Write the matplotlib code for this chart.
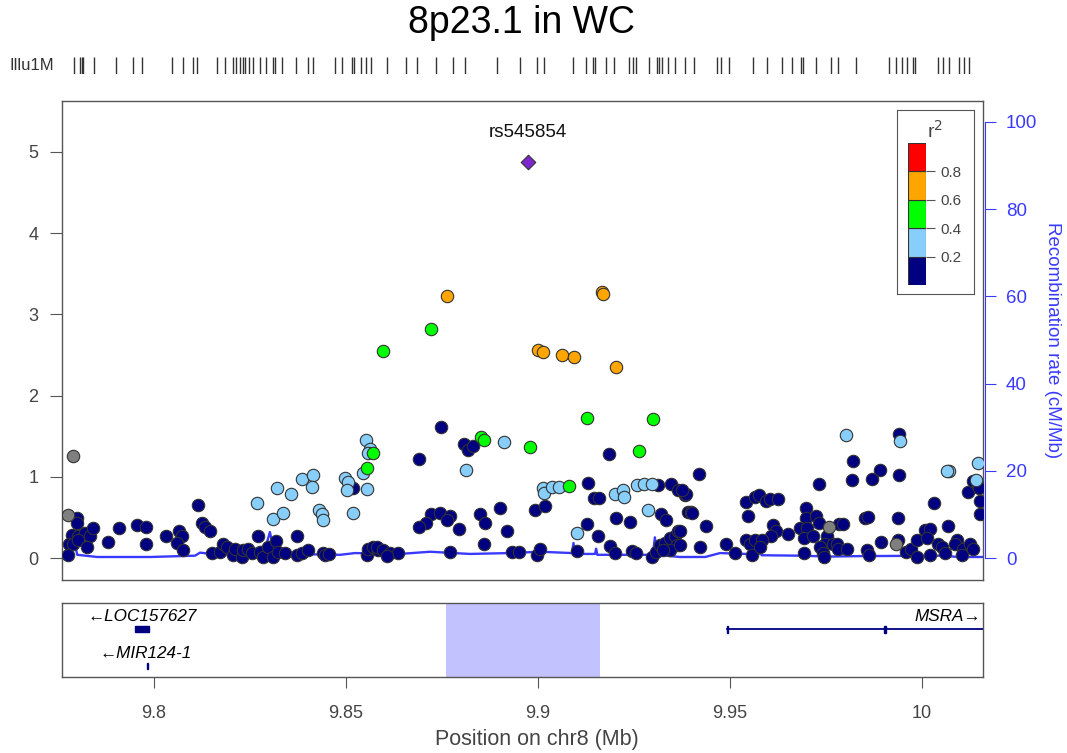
import matplotlib
matplotlib.use('Agg')
import matplotlib.pyplot as plt
from matplotlib.patches import Rectangle

plt.rcParams['font.family'] = ['Liberation Sans', 'DejaVu Sans']

TITLE = "8p23.1 in WC"
CHROM_LABEL = "Position on chr8 (Mb)"
RECOMB_LABEL = "Recombination rate (cM/Mb)"
RUG_LABEL = "Illu1M"

lead_name = "rs545854"
lead_pos = 9.8974
lead_logp = 4.88

gray_pos = [9.7790, 9.7777, 9.9759, 9.9933]
gray_logp = [1.26, 0.53, 0.39, 0.17]

navy_pos = [
    9.7799, 9.7799, 9.7786, 9.7803, 9.7820, 9.7833, 9.7842, 9.7779, 9.7790, 9.7803, 9.7826, 9.7777,
    9.7881, 9.7909, 9.7955, 9.7979, 9.7979, 9.8031, 9.8066, 9.8072, 9.8061, 9.8076, 9.8115, 9.8124,
    9.8133, 9.8146, 9.8150, 9.8172, 9.8181, 9.8189, 9.8207, 9.8211, 9.8228, 9.8233, 9.8246, 9.8255,
    9.8272, 9.8276, 9.8285, 9.8298, 9.8311, 9.8318, 9.8324, 9.8341, 9.8372, 9.8373, 9.8385, 9.8402,
    9.8441, 9.8445, 9.8457, 9.8519, 9.8554, 9.8558, 9.8571, 9.8584,
    9.8748, 9.8690, 9.8808, 9.8817, 9.8830, 9.9185, 9.9130, 9.9146, 9.9159, 9.9314, 9.9347, 9.9366,
    9.9383, 9.9392, 9.8722, 9.8745, 9.8771, 9.8763, 9.8710, 9.8691, 9.8795, 9.8849, 9.8862, 9.8901,
    9.8920, 9.8993, 9.9019, 9.9127, 9.9158, 9.9205, 9.9241, 9.9321, 9.9333, 9.8771, 9.8860, 9.8932,
    9.8952, 9.8997, 9.9007, 9.9101, 9.9188, 9.9201, 9.9245, 9.9255, 9.9297, 9.9308, 9.9318, 9.9331,
    9.9344, 9.9357, 9.9366, 9.9362, 9.9344, 9.9327, 9.8580, 9.8597, 9.8615, 9.8636, 9.8606,
    9.9941, 9.9820, 9.9818, 9.9891, 9.9872, 9.9941, 9.9421, 9.9733, 9.9386, 9.9375, 9.9399, 9.9403,
    9.9437, 9.9370, 9.9370, 9.9422, 9.9490, 9.9514, 9.9542, 9.9566, 9.9576, 9.9594, 9.9605, 9.9626,
    9.9548, 9.9613, 9.9620, 9.9607, 9.9542, 9.9553, 9.9566, 9.9583, 9.9557, 9.9579, 9.9652, 9.9699,
    9.9699, 9.9725, 9.9733, 9.9683, 9.9702, 9.9693, 9.9716, 9.9753, 9.9748, 9.9768, 9.9780, 9.9783,
    9.9805, 9.9785, 9.9796, 9.9693, 9.9735, 9.9742, 9.9746, 9.9852, 9.9861, 9.9859, 9.9863, 9.9893,
    9.9938, 9.9939, 9.9959, 9.9972, 9.9989, 9.9987, 10.0009, 10.0023, 10.0032, 10.0013, 10.0022, 10.0043,
    10.0052, 10.0061, 10.0069, 10.0091, 10.0087, 10.0108, 10.0104, 10.0126, 10.0134, 10.0122, 10.0134,
    10.0148, 10.0152, 10.0152, 10.0150,
]
navy_logp = [
    0.49, 0.43, 0.29, 0.27, 0.31, 0.27, 0.37, 0.18, 0.18, 0.23, 0.14, 0.04,
    0.20, 0.37, 0.41, 0.38, 0.18, 0.27, 0.34, 0.27, 0.19, 0.10, 0.66, 0.44,
    0.39, 0.33, 0.06, 0.08, 0.18, 0.14, 0.04, 0.12, 0.02, 0.10, 0.12, 0.06,
    0.27, 0.08, 0.02, 0.14, 0.02, 0.21, 0.08, 0.07, 0.27, 0.04, 0.06, 0.10,
    0.07, 0.04, 0.05, 0.86, 0.04, 0.12, 0.14, 0.10,
    1.61, 1.22, 1.41, 1.33, 1.38, 1.28, 0.93, 0.74, 0.74, 0.90, 0.91, 0.84,
    0.78, 0.57, 0.55, 0.56, 0.52, 0.47, 0.44, 0.38, 0.36, 0.55, 0.43, 0.62,
    0.34, 0.59, 0.64, 0.42, 0.27, 0.50, 0.45, 0.55, 0.47, 0.08, 0.18, 0.08,
    0.08, 0.04, 0.11, 0.09, 0.15, 0.06, 0.09, 0.06, 0.02, 0.08, 0.16, 0.19,
    0.25, 0.27, 0.33, 0.16, 0.10, 0.10, 0.14, 0.10, 0.06, 0.07, 0.03,
    1.53, 1.20, 0.96, 1.08, 0.97, 1.03, 1.04, 0.91, 0.79, 0.84, 0.57, 0.56,
    0.40, 0.33, 0.16, 0.14, 0.18, 0.07, 0.69, 0.75, 0.78, 0.71, 0.73, 0.73,
    0.52, 0.41, 0.33, 0.27, 0.23, 0.18, 0.23, 0.22, 0.04, 0.14, 0.30, 0.62,
    0.49, 0.52, 0.43, 0.37, 0.37, 0.25, 0.27, 0.27, 0.18, 0.18, 0.18, 0.12,
    0.12, 0.42, 0.42, 0.07, 0.14, 0.07, 0.02, 0.50, 0.51, 0.10, 0.04, 0.20,
    0.50, 0.23, 0.08, 0.12, 0.01, 0.23, 0.35, 0.36, 0.68, 0.25, 0.04, 0.18,
    0.14, 0.07, 0.40, 0.23, 0.18, 0.11, 0.04, 0.18, 0.11, 0.82, 0.95,
    0.89, 0.71, 0.54, 0.86,
]

lblue_pos = [
    9.8269, 9.8320, 9.8309, 9.8337, 9.8356, 9.8386, 9.8415, 9.8411, 9.8430, 9.8438, 9.8441, 9.8498,
    9.8506, 9.8502, 9.8518, 9.8554, 9.8552, 9.8563, 9.8558, 9.8545, 9.8912, 9.8813, 9.9014, 9.9016,
    9.9036, 9.9056, 9.9201, 9.9223, 9.9224, 9.9259, 9.9277, 9.9297, 9.9286, 9.9103, 9.9803, 9.9943,
    10.0072, 10.0146, 10.0141, 10.0066,
]
lblue_logp = [
    0.68, 0.87, 0.48, 0.56, 0.79, 0.97, 1.02, 0.88, 0.59, 0.55, 0.47, 0.99,
    0.94, 0.84, 0.56, 0.85, 1.46, 1.35, 1.29, 1.05, 1.43, 1.09, 0.86, 0.80,
    0.88, 0.88, 0.79, 0.84, 0.76, 0.90, 0.91, 0.91, 0.59, 0.31, 1.52, 1.44,
    1.07, 1.17, 0.96, 1.07,
]

green_pos = [9.8721, 9.8596, 9.9129, 9.9299, 9.9264, 9.8980, 9.8852, 9.8861, 9.9082, 9.8571, 9.8554]
green_logp = [2.82, 2.55, 1.73, 1.71, 1.32, 1.37, 1.49, 1.45, 0.89, 1.29, 1.11]

orange_pos = [9.8764, 9.9167, 9.9169, 9.9001, 9.9013, 9.9063, 9.9094, 9.9205]
orange_logp = [3.23, 3.28, 3.25, 2.56, 2.54, 2.50, 2.48, 2.35]

recomb_pos = [9.7797, 9.7800, 9.7852, 9.7990, 9.8107, 9.8120, 9.8159, 9.8284, 9.8294, 9.8302,
              9.8307, 9.8315, 9.8354, 9.8485, 9.8524, 9.8641, 9.8719, 9.8823, 9.8927, 9.9006,
              9.9089, 9.9093, 9.9097, 9.9149, 9.9152, 9.9155, 9.9300, 9.9305, 9.9310, 9.9370,
              9.9436, 9.9475, 9.9540, 9.9576, 9.9579, 9.9583, 9.9683, 9.9761, 9.9839, 10.0048,
              10.0100, 10.0160]
recomb_rate = [2.0, 0.8, 0.3, 0.3, 0.6, 1.3, 0.9, 0.8, 3.5, 6.0,
               4.0, 1.2, 1.0, 0.8, 1.2, 1.0, 1.5, 1.0, 1.2, 1.5,
               1.2, 3.5, 1.0, 1.0, 2.2, 0.8, 0.8, 4.8, 0.8, 0.3,
               0.3, 1.2, 1.0, 1.0, 2.2, 0.7, 0.6, 0.4, 0.5, 0.6,
               0.3, 0.3]

rug_pos = [9.7792, 9.7807, 9.7812, 9.7816, 9.7844, 9.7901, 9.7945, 9.7968, 9.8046, 9.8076,
           9.8101, 9.8111, 9.8163, 9.8186, 9.8207, 9.8213, 9.8224, 9.8233, 9.8237, 9.8248,
           9.8259, 9.8276, 9.8292, 9.8311, 9.8315, 9.8333, 9.8370, 9.8402, 9.8415, 9.8472,
           9.8489, 9.8515, 9.8521, 9.8539, 9.8552, 9.8565, 9.8606, 9.8657, 9.8684, 9.8735,
           9.8780, 9.8810, 9.8893, 9.8954, 9.8997, 9.9016, 9.9091, 9.9125, 9.9145, 9.9150,
           9.9179, 9.9199, 9.9238, 9.9249, 9.9256, 9.9290, 9.9311, 9.9316, 9.9323, 9.9340,
           9.9357, 9.9383, 9.9408, 9.9466, 9.9477, 9.9499, 9.9561, 9.9598, 9.9635, 9.9663,
           9.9685, 9.9690, 9.9726, 9.9763, 9.9783, 9.9829, 9.9916, 9.9933, 9.9948, 9.9961,
           9.9977, 9.9983, 10.0043, 10.0056, 10.0072, 10.0098, 10.0110, 10.0124]

# genes
gene_names = ["LOC157627", "MIR124-1", "MSRA"]
gene_start = [9.7950, 9.7982, 9.9494]
gene_end = [9.7986, 9.7984, 10.0400]
gene_strand = ["-", "-", "+"]
gene_row = [0, 1, 0]
msra_exons = [9.9494, 9.9904]
highlight = (9.8761, 9.9162)

r2_breaks = [0.0, 0.2, 0.4, 0.6, 0.8, 1.0]
r2_colors = ["#000080", "#87CEFA", "#00FF00", "#FFA500", "#FF0000"]
r2_ticks = [0.2, 0.4, 0.6, 0.8]

xlim = (9.77603, 10.0160)
x_ticks = [9.8, 9.85, 9.9, 9.95, 10.0]
y_ticks = [0, 1, 2, 3, 4, 5]
r_ticks = [0, 20, 40, 60, 80, 100]

W, H = 1067, 753
def fr(l, t, r, b):
    return [l / W, 1 - b / H, (r - l) / W, (b - t) / H]

fig = plt.figure(figsize=(W / 100, H / 100), dpi=100)
GRAY = '#555555'
TXT = '#444444'
BLUE = '#3a3aff'

fig.text(522 / W, 1 - 23 / H, TITLE, ha='center', va='center', fontsize=27, color='black')

# rug
rax = fig.add_axes(fr(62, 57, 983, 74))
rax.vlines(rug_pos, 0, 1, color='#333333', lw=1.0)
rax.set_xlim(*xlim)
rax.set_ylim(0, 1)
rax.axis('off')
fig.text(54 / W, 1 - 66 / H, RUG_LABEL, ha='right', va='center', fontsize=12, color='#333333')

# main
ax = fig.add_axes(fr(62, 101, 983, 580))
ax.set_xlim(*xlim)
ax.set_ylim(-0.267, 5.625)
ax.set_xticks([])
ax.set_yticks(y_ticks)
ax.tick_params(axis='y', length=9, width=0.8, color=GRAY, labelcolor=TXT, labelsize=13, pad=8)
for s in ax.spines.values():
    s.set_color(GRAY)
    s.set_linewidth(1.0)

rax2 = ax.twinx()
rax2.plot(recomb_pos, recomb_rate, color=BLUE, lw=1.7, zorder=1)
rax2.set_ylim(-4.97, 104.74)
rax2.set_yticks(r_ticks)
rax2.tick_params(axis='y', length=8, width=0.8, color=BLUE, labelcolor=BLUE, labelsize=13.5, pad=7)
for k, s in rax2.spines.items():
    s.set_visible(False)
rax2.spines['right'].set_visible(True)
rax2.spines['right'].set_color(BLUE)
rax2.spines['right'].set_bounds(0, 100)
rax2.spines['right'].set_position(('outward', 1.5))
rax2.set_ylabel(RECOMB_LABEL, color=BLUE, fontsize=13.5, rotation=270, labelpad=17)
rax2.patch.set_visible(True)
rax2.patch.set_facecolor('white')
rax2.set_zorder(0)
ax.set_zorder(1)
ax.patch.set_visible(False)

kw = dict(s=80, edgecolors='#333333', linewidths=0.8, zorder=3)
ax.scatter(navy_pos, navy_logp, c=r2_colors[0], **kw)
ax.scatter(gray_pos, gray_logp, c='#7f7f7f', **kw)
ax.scatter(lblue_pos, lblue_logp, c=r2_colors[1], **kw)
ax.scatter(green_pos, green_logp, c=r2_colors[2], **kw)
ax.scatter(orange_pos, orange_logp, c=r2_colors[3], **kw)
ax.scatter([lead_pos], [lead_logp], marker='D', s=55, c='#7D26CD', edgecolors='#333333', linewidths=0.8, zorder=4)
ax.annotate(lead_name, (lead_pos, lead_logp), xytext=(0, 21), textcoords='offset points',
            ha='center', va='center', fontsize=13.5, color='#111111')

# legend
lax = fig.add_axes(fr(897, 110, 974, 294))
lax.set_xticks([]); lax.set_yticks([])
lax.set_xlim(0, 1); lax.set_ylim(0, 1)
for s in lax.spines.values():
    s.set_color(GRAY)
    s.set_linewidth(0.8)
lax.text(0.49, 0.885, r"r$^{2}$", ha='center', va='center', fontsize=14, color=TXT)
bax = fig.add_axes(fr(907.7, 142.7, 926, 285))
for i, c in enumerate(r2_colors):
    bax.add_patch(Rectangle((0, r2_breaks[i]), 1, r2_breaks[i + 1] - r2_breaks[i],
                            facecolor=c, edgecolor='#333333', lw=0.8))
bax.set_xlim(0, 1); bax.set_ylim(0, 1)
bax.set_xticks([])
bax.set_yticks(r2_ticks)
bax.set_yticklabels([f"{t:.1f}" for t in r2_ticks])
bax.tick_params(axis='y', left=False, right=True, labelleft=False, labelright=True,
                length=6.5, width=0.8, color=GRAY, labelcolor=TXT, labelsize=11, pad=4)
for s in bax.spines.values():
    s.set_visible(False)

# gene panel
gax = fig.add_axes(fr(62, 603, 983, 677))
gax.set_xlim(*xlim)
gax.set_ylim(0, 1)
gax.axvspan(highlight[0], highlight[1], color='#c2c2ff', lw=0, zorder=0)
row_line = [0.645, 0.149]
row_text = [0.811, 0.311]
GFS = 12.3
for name, st, en, strand, row in zip(gene_names, gene_start, gene_end, gene_strand, gene_row):
    yl = row_line[row]
    if name == "MSRA":
        gax.plot([st, en], [yl, yl], color='#000080', lw=1.3, zorder=2)
        for ex in msra_exons:
            gax.add_patch(Rectangle((ex - 0.0002, yl - 0.045), 0.0004, 0.09, color='#000080', zorder=3))
        gax.text(xlim[1] - 0.0006, row_text[row], name + "\u2192", ha='right', va='center',
                 fontsize=GFS, style='italic', color='black')
    elif name == "MIR124-1":
        gax.add_patch(Rectangle((st, yl - 0.04), en - st, 0.08, color='#000080', zorder=3))
        gax.text((st + en) / 2 - 0.0006, row_text[row], "\u2190" + name, ha='center', va='center',
                 fontsize=GFS, style='italic', color='black')
    else:
        gax.add_patch(Rectangle((st, yl - 0.038), en - st, 0.076, color='#000080', zorder=3))
        gax.text((st + en) / 2, row_text[row], "\u2190" + name, ha='center', va='center',
                 fontsize=GFS, style='italic', color='black')
gax.set_yticks([])
gax.set_xticks(x_ticks)
gax.set_xticklabels(["9.8", "9.85", "9.9", "9.95", "10"])
gax.tick_params(axis='x', length=8, width=0.8, color=GRAY, labelcolor=TXT, labelsize=13, pad=12)
for s in gax.spines.values():
    s.set_color(GRAY)
    s.set_linewidth(1.0)
fig.text(537 / W, 1 - 740 / H, CHROM_LABEL, ha='center', va='center', fontsize=15.5, color=TXT)

fig.savefig('out.png', dpi=100)
